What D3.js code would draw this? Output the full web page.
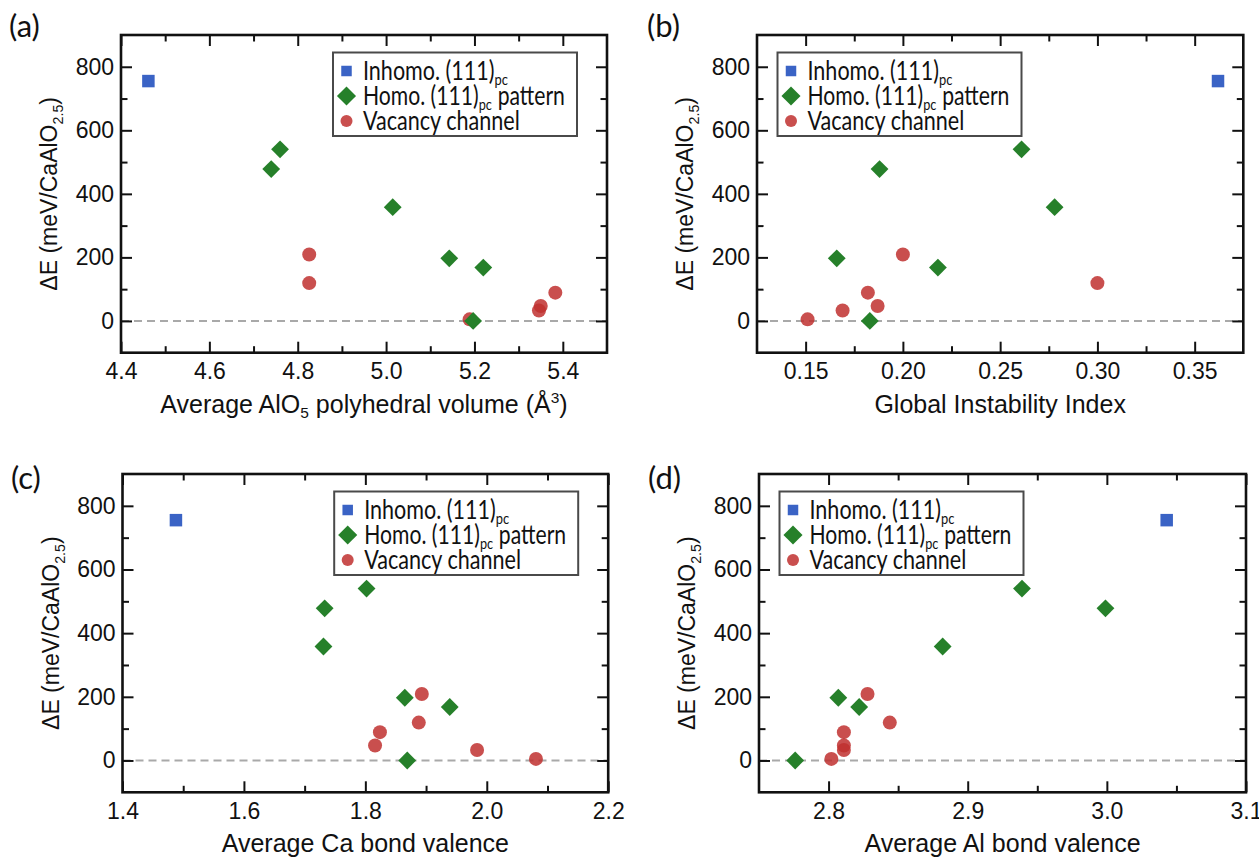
<!DOCTYPE html>
<html>
<head>
<meta charset="utf-8">
<script src="https://cdn.jsdelivr.net/npm/d3@7"></script>
<style>
  body { margin: 0; background: #fff; }
  svg { display: block; }
  .num { font-family: "Liberation Sans", Arial, Helvetica, sans-serif; font-size: 23px; fill: #111; }
  .axis-title { font-family: "Liberation Sans", Arial, Helvetica, sans-serif; font-size: 23px; fill: #111; }
  .x-title { font-size: 25px; }
  .legend-text { font-family: Lato, "Open Sans", sans-serif; font-size: 26px; fill: #111; }
  .panel-label { font-family: Lato, "Open Sans", sans-serif; font-size: 31px; fill: #111; }
</style>
</head>
<body>
<svg id="chart" width="1259" height="858"></svg>
<script>
// Relative energies (meV / CaAlO2.5) for the three structure families
const inhomoEnergy  = [755];
const homoEnergy    = [540, 478, 358, 197, 168, 0];
const vacancyEnergy = [209, 119, 89, 47, 33, 5];

// (a) average AlO5 polyhedral volume (Å^3)
const volInhomo  = [4.462];
const volHomo    = [4.760, 4.740, 5.015, 5.143, 5.220, 5.197];
const volVacancy = [4.826, 4.826, 5.383, 5.350, 5.346, 5.189];

// (b) global instability index
const giiInhomo  = [0.362];
const giiHomo    = [0.261, 0.188, 0.278, 0.166, 0.218, 0.183];
const giiVacancy = [0.200, 0.300, 0.182, 0.187, 0.169, 0.151];

// (c) average Ca bond valence
const caInhomo  = [1.488];
const caHomo    = [1.802, 1.733, 1.731, 1.865, 1.939, 1.869];
const caVacancy = [1.893, 1.888, 1.824, 1.816, 1.984, 2.081];

// (d) average Al bond valence
const alInhomo  = [3.043];
const alHomo    = [2.939, 2.999, 2.882, 2.807, 2.822, 2.776];
const alVacancy = [2.828, 2.844, 2.811, 2.811, 2.811, 2.802];

// Shared energy axis
const yDomain = [-100, 900];
const yMajor  = [0, 200, 400, 600, 800];
const yMinor  = [100, 300, 500, 700];

// X axes
const xDomainA = [4.4, 5.5],     xMajorA = [4.4, 4.6, 4.8, 5.0, 5.2, 5.4], xMinorA = [4.5, 4.7, 4.9, 5.1, 5.3];
const xDomainB = [0.125, 0.375], xMajorB = [0.15, 0.20, 0.25, 0.30, 0.35], xMinorB = [0.175, 0.225, 0.275, 0.325];
const xDomainC = [1.4, 2.2],     xMajorC = [1.4, 1.6, 1.8, 2.0, 2.2], xMinorC = [1.5, 1.7, 1.9, 2.1];
const xDomainD = [2.75, 3.1],    xMajorD = [2.8, 2.9, 3.0, 3.1], xMinorD = [2.85, 2.95, 3.05];

// Legend entries: [main text, subscript, trailing text]
const legendLabels = [
  ["Inhomo. (111)", "pc", ""],
  ["Homo. (111)", "pc", "pattern"],
  ["Vacancy channel", "", ""]
];
const legendWidths = [145, 202, 157];

// Axis titles as runs of [text, style]
const yTitle  = [["ΔE (meV/CaAlO", "n"], ["2.5", "sub"], [")", "n"]];
const xTitleA = [["Average AlO", "n"], ["5", "sub"], [" polyhedral volume (Å", "n"], ["3", "sup"], [")", "n"]];
const xTitleB = [["Global Instability Index", "n"]];
const xTitleC = [["Average Ca bond valence", "n"]];
const xTitleD = [["Average Al bond valence", "n"]];

const colInhomo = "#3a63c5";
const colHomo   = "#26802a";
const colVac    = "#c0302f";

const svg = d3.select("#chart");
svg.append("rect").attr("width", 1259).attr("height", 858).attr("fill", "#fff");

const panels = [
  { tag: "(a)", box: [121, 607, 35, 352.7], xd: xDomainA, xM: xMajorA, xm: xMinorA, fmt: ".1f",
    xs: [volInhomo, volHomo, volVacancy], xt: xTitleA, legendSide: "right", lab: [9, 37] },
  { tag: "(b)", box: [757, 1243.3, 35, 352.7], xd: xDomainB, xM: xMajorB, xm: xMinorB, fmt: ".2f",
    xs: [giiInhomo, giiHomo, giiVacancy], xt: xTitleB, legendSide: "left", lab: [647, 37] },
  { tag: "(c)", box: [122.5, 608.2, 474, 792.3], xd: xDomainC, xM: xMajorC, xm: xMinorC, fmt: ".1f",
    xs: [caInhomo, caHomo, caVacancy], xt: xTitleC, legendSide: "right", lab: [11, 489] },
  { tag: "(d)", box: [759, 1246, 474, 792.3], xd: xDomainD, xM: xMajorD, xm: xMinorD, fmt: ".1f",
    xs: [alInhomo, alHomo, alVacancy], xt: xTitleD, legendSide: "left", lab: [648, 489] }
];

const MAJOR = 11, MINOR = 6.5;

function writeRuns(textSel, runs, subShift, supShift) {
  let offset = 0;
  runs.forEach(([t, kind]) => {
    let dy = 0;
    const ts = textSel.append("tspan").text(t);
    if (kind === "sub") { dy = subShift - offset; offset = subShift; ts.attr("font-size", "0.62em"); }
    else if (kind === "sup") { dy = -supShift - offset; offset = -supShift; ts.attr("font-size", "0.62em"); }
    else { dy = -offset; offset = 0; }
    if (dy !== 0) ts.attr("dy", dy);
  });
}

panels.forEach(p => {
  const [x0, x1, y0, y1] = p.box;
  const x = d3.scaleLinear().domain(p.xd).range([x0, x1]);
  const y = d3.scaleLinear().domain(yDomain).range([y1, y0]);
  const g = svg.append("g");

  // zero reference line
  g.append("line")
    .attr("x1", x0).attr("x2", x1).attr("y1", y(0)).attr("y2", y(0))
    .attr("stroke", "#a9a9a9").attr("stroke-width", 2).attr("stroke-dasharray", "8,5");

  // axes with inward ticks on all four sides
  const styleAxis = sel => {
    sel.select(".domain").remove();
    sel.selectAll(".tick line").attr("stroke", "#111").attr("stroke-width", 2);
  };
  const fmt = d3.format(p.fmt);
  g.append("g").attr("transform", `translate(0,${y1})`)
    .call(d3.axisBottom(x).tickValues(p.xM).tickSize(-MAJOR).tickPadding(10).tickFormat(fmt))
    .call(styleAxis)
    .call(s => s.selectAll("text").attr("class", "num").attr("fill", "#111"));
  g.append("g").attr("transform", `translate(0,${y1})`)
    .call(d3.axisBottom(x).tickValues(p.xm).tickSize(-MINOR).tickFormat(""))
    .call(styleAxis);
  g.append("g").attr("transform", `translate(0,${y0})`)
    .call(d3.axisTop(x).tickValues(p.xM).tickSize(-MAJOR).tickFormat(""))
    .call(styleAxis);
  g.append("g").attr("transform", `translate(0,${y0})`)
    .call(d3.axisTop(x).tickValues(p.xm).tickSize(-MINOR).tickFormat(""))
    .call(styleAxis);
  g.append("g").attr("transform", `translate(${x0},0)`)
    .call(d3.axisLeft(y).tickValues(yMajor).tickSize(-MAJOR).tickPadding(7).tickFormat(d3.format("d")))
    .call(styleAxis)
    .call(s => s.selectAll("text").attr("class", "num").attr("fill", "#111"));
  g.append("g").attr("transform", `translate(${x0},0)`)
    .call(d3.axisLeft(y).tickValues(yMinor).tickSize(-MINOR).tickFormat(""))
    .call(styleAxis);
  g.append("g").attr("transform", `translate(${x1},0)`)
    .call(d3.axisRight(y).tickValues(yMajor).tickSize(-MAJOR).tickFormat(""))
    .call(styleAxis);
  g.append("g").attr("transform", `translate(${x1},0)`)
    .call(d3.axisRight(y).tickValues(yMinor).tickSize(-MINOR).tickFormat(""))
    .call(styleAxis);

  // frame
  g.append("rect").attr("x", x0).attr("y", y0).attr("width", x1 - x0).attr("height", y1 - y0)
    .attr("fill", "none").attr("stroke", "#111").attr("stroke-width", 2.6);

  // markers: vacancy channel, then homogeneous, then inhomogeneous
  const [xsIn, xsHomo, xsVac] = p.xs;
  const circle  = d3.symbol().type(d3.symbolCircle).size(Math.PI * 7 * 7);
  const square  = d3.symbol().type(d3.symbolSquare).size(12.5 * 12.5);
  const diamond = d3.symbol().type(d3.symbolSquare).size(12.6 * 12.6);

  g.append("g").selectAll("path").data(vacancyEnergy).join("path")
    .attr("d", circle)
    .attr("transform", (d, i) => `translate(${x(xsVac[i])},${y(d)})`)
    .attr("fill", colVac).attr("fill-opacity", 0.85);
  g.append("g").selectAll("path").data(homoEnergy).join("path")
    .attr("d", diamond)
    .attr("transform", (d, i) => `translate(${x(xsHomo[i])},${y(d)}) rotate(45)`)
    .attr("fill", colHomo);
  g.append("g").selectAll("path").data(inhomoEnergy).join("path")
    .attr("d", square)
    .attr("transform", (d, i) => `translate(${x(xsIn[i])},${y(d)})`)
    .attr("fill", colInhomo);

  // legend
  const lw = 244, lh = 83.5;
  const lx = p.legendSide === "right" ? x1 - 274 : x0 + 20.5;
  const ly = y0 + 17.5;
  const lg = g.append("g").attr("transform", `translate(${lx},${ly})`);
  lg.append("rect").attr("width", lw).attr("height", lh)
    .attr("fill", "#fff").attr("stroke", "#4a4a4a").attr("stroke-width", 2);
  const rowY = [18.5, 43.5, 68.5];
  lg.append("path").attr("d", d3.symbol().type(d3.symbolSquare).size(10.5 * 10.5))
    .attr("transform", `translate(13.5,${rowY[0]})`).attr("fill", colInhomo);
  lg.append("path").attr("d", d3.symbol().type(d3.symbolSquare).size(13.5 * 13.5))
    .attr("transform", `translate(13.5,${rowY[1]}) rotate(45)`).attr("fill", colHomo);
  lg.append("path").attr("d", d3.symbol().type(d3.symbolCircle).size(Math.PI * 6 * 6))
    .attr("transform", `translate(13.5,${rowY[2]})`).attr("fill", colVac).attr("fill-opacity", 0.85);
  legendLabels.forEach((parts, i) => {
    const row = lg.append("g").attr("transform", `translate(30,${rowY[i] + 9})`);
    const inner = row.append("g");
    const t = inner.append("text").attr("class", "legend-text");
    t.append("tspan").text(parts[0]);
    if (parts[1]) t.append("tspan").attr("font-size", "0.6em").attr("dy", 5).text(parts[1]);
    let natural = t.node().getComputedTextLength();
    if (parts[2]) {
      const gap = 7;
      const t2 = inner.append("text").attr("class", "legend-text").attr("x", natural + gap).text(parts[2]);
      natural += gap + t2.node().getComputedTextLength();
    }
    // condense the label horizontally to its set width
    const sx = natural > 0 ? legendWidths[i] / natural : 1;
    inner.attr("transform", `scale(${sx},1)`);
  });

  // axis titles
  const xt = g.append("text").attr("class", "axis-title x-title")
    .attr("x", (x0 + x1) / 2).attr("y", y1 + 60).attr("text-anchor", "middle");
  writeRuns(xt, p.xt, 5, 10);

  const yt = g.append("text").attr("class", "axis-title")
    .attr("transform", `translate(${x0 - 72},${(y0 + y1) / 2}) rotate(-90)`)
    .attr("text-anchor", "middle").attr("dy", "0.35em");
  writeRuns(yt, yTitle, 6, 9);

  // panel tag
  svg.append("text").attr("class", "panel-label").attr("x", p.lab[0]).attr("y", p.lab[1]).text(p.tag);
});
</script>
</body>
</html>
